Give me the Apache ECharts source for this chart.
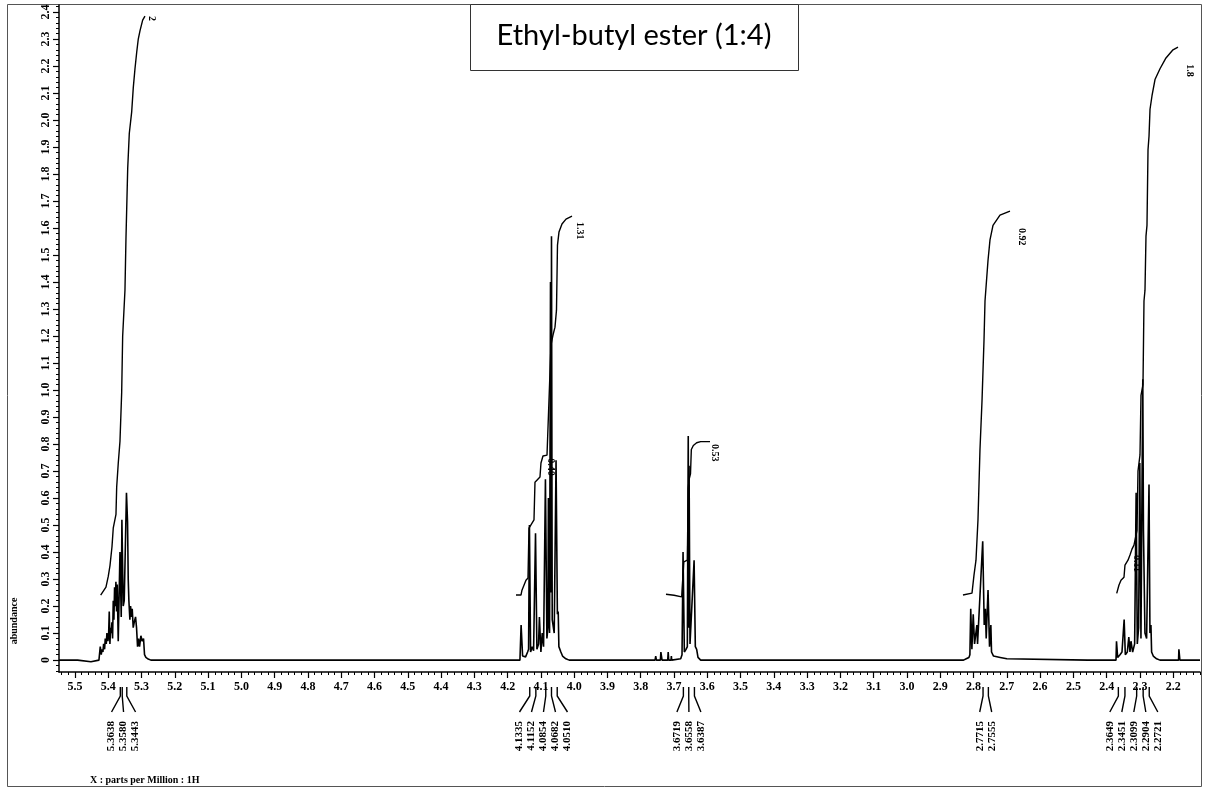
<!DOCTYPE html>
<html>
<head>
<meta charset="utf-8">
<title>Ethyl-butyl ester (1:4)</title>
<script src="https://cdn.jsdelivr.net/npm/echarts@6/dist/echarts.min.js"></script>
<style>
html, body { margin: 0; padding: 0; background: #fff; }
#chart { width: 1207px; height: 792px; }
</style>
</head>
<body>
<div id="chart"></div>
<script>
// axis window (ppm runs right to left)
const X_MIN = 2.1196
const X_MAX = 5.548
const Y_MIN = -0.044
const Y_MAX = 2.426

// tick labels
const xMajor = [5.5, 5.4, 5.3, 5.2, 5.1, 5.0, 4.9, 4.8, 4.7, 4.6, 4.5, 4.4, 4.3, 4.2, 4.1, 4.0, 3.9, 3.8, 3.7, 3.6, 3.5,
  3.4, 3.3, 3.2, 3.1, 3.0, 2.9, 2.8, 2.7, 2.6, 2.5, 2.4, 2.3, 2.2]
const yMajor = [0, 0.1, 0.2, 0.3, 0.4, 0.5, 0.6, 0.7, 0.8, 0.9, 1.0, 1.1, 1.2, 1.3, 1.4, 1.5, 1.6, 1.7, 1.8, 1.9, 2.0,
  2.1, 2.2, 2.3, 2.4]

// minor ticks every 0.02
const xMinor = []
for (let k = 106; k <= 277; k++) if (k % 5 !== 0) xMinor.push(k / 50)
const yMinor = []
for (let k = -2; k <= 121; k++) if (k % 5 !== 0) yMinor.push(k / 50)

// spectrum trace [ppm, abundance], left to right
const specBase = [[5.548, 0], [5.492, 0], [5.490, -0.006], [5.452, -0.006], [5.450, 0], [5.428, 0]]
const specA = [[5.426, 0], [5.424, 0.05], [5.421, 0.02], [5.419, 0.04], [5.416, 0.03], [5.414, 0.06], [5.411, 0.04],
  [5.409, 0.08], [5.406, 0.06], [5.404, 0.10], [5.401, 0.07], [5.399, 0.09], [5.397, 0.18], [5.395, 0.06],
  [5.393, 0.12], [5.391, 0.10], [5.389, 0.14], [5.387, 0.08], [5.385, 0.22], [5.383, 0.15], [5.381, 0.27],
  [5.379, 0.20], [5.377, 0.29], [5.375, 0.18], [5.373, 0.28], [5.370, 0.07], [5.3648, 0.40], [5.3628, 0.40],
  [5.361, 0.16], [5.3590, 0.52], [5.3570, 0.52], [5.355, 0.20], [5.352, 0.22], [5.3453, 0.62], [5.3433, 0.62],
  [5.342, 0.51], [5.340, 0.30], [5.338, 0.22], [5.335, 0.15], [5.333, 0.20], [5.330, 0.16], [5.328, 0.19],
  [5.325, 0.12], [5.322, 0.14], [5.318, 0.16], [5.315, 0.12], [5.312, 0.05], [5.309, 0.08], [5.306, 0.05],
  [5.302, 0.09], [5.298, 0.07], [5.294, 0.08], [5.291, 0.02], [5.287, 0.01], [5.280, 0.004], [5.272, 0]]
const specB = [[4.405, 0], [4.404, 0.006], [4.402, 0], [4.234, 0], [4.233, 0.006], [4.231, 0],
  [4.163, 0], [4.1595, 0.13], [4.1575, 0.13], [4.155, 0.015], [4.150, 0.02], [4.146, 0.012], [4.140, 0.03],
  [4.137, 0.04], [4.1345, 0.50], [4.1325, 0.50], [4.131, 0.03], [4.126, 0.05], [4.122, 0.035], [4.1162, 0.47],
  [4.1142, 0.47], [4.112, 0.04], [4.107, 0.06], [4.1045, 0.16], [4.1025, 0.16], [4.100, 0.03], [4.096, 0.10],
  [4.092, 0.05], [4.0864, 0.67], [4.0844, 0.67], [4.082, 0.08], [4.079, 0.12], [4.0775, 0.60], [4.0760, 0.60],
  [4.074, 0.10], [4.0712, 1.40], [4.0702, 1.40], [4.0690, 0.25], [4.0682, 1.57], [4.0672, 1.57], [4.066, 0.15],
  [4.060, 0.10], [4.0545, 0.74], [4.0525, 0.74], [4.0505, 0.17], [4.048, 0.18], [4.046, 0.05], [4.040, 0.03],
  [4.035, 0.015], [4.025, 0.005], [4.015, 0]]
const specC = [[3.882, 0], [3.881, 0.005], [3.879, 0], [3.872, 0], [3.871, 0.005], [3.869, 0], [3.861, 0],
  [3.860, 0.005], [3.858, 0], [3.757, 0], [3.755, 0.015], [3.753, 0], [3.741, 0], [3.7395, 0.03], [3.7375, 0.03],
  [3.736, 0], [3.719, 0], [3.7175, 0.03], [3.716, 0], [3.709, 0], [3.708, 0.015], [3.707, 0], [3.680, 0.005],
  [3.676, 0.02], [3.6729, 0.40], [3.6709, 0.40], [3.669, 0.03], [3.664, 0.04], [3.660, 0.05], [3.6573, 0.83],
  [3.6563, 0.83], [3.6555, 0.12], [3.6548, 0.72], [3.6538, 0.72], [3.652, 0.06], [3.646, 0.06], [3.6397, 0.37],
  [3.6377, 0.37], [3.636, 0.05], [3.632, 0.04], [3.628, 0.01], [3.620, 0], [3.476, 0], [3.475, 0.005], [3.473, 0]]
const specD = [[2.830, 0], [2.822, 0.005], [2.814, 0.01], [2.811, 0.02], [2.8085, 0.19], [2.8070, 0.19],
  [2.805, 0.04], [2.801, 0.17], [2.799, 0.17], [2.797, 0.06], [2.790, 0.13], [2.788, 0.06], [2.7725, 0.44],
  [2.7705, 0.44], [2.768, 0.13], [2.7645, 0.19], [2.762, 0.08], [2.7565, 0.26], [2.7545, 0.26], [2.752, 0.05],
  [2.748, 0.13], [2.746, 0.03], [2.740, 0.015], [2.720, 0.01], [2.700, 0.005], [2.695, 0]]
const specE = [[2.457, 0], [2.456, 0.005], [2.454, 0], [2.372, 0], [2.3705, 0.07], [2.3690, 0.07], [2.367, 0.01],
  [2.360, 0.02], [2.354, 0.03], [2.3475, 0.15], [2.3460, 0.15], [2.344, 0.02], [2.338, 0.03], [2.3335, 0.085],
  [2.332, 0.085], [2.330, 0.03], [2.327, 0.07], [2.325, 0.07], [2.322, 0.03], [2.316, 0.06], [2.3115, 0.62],
  [2.3100, 0.62], [2.308, 0.06], [2.304, 0.12], [2.3005, 0.73], [2.2995, 0.73], [2.297, 0.08], [2.2915, 1.04],
  [2.2905, 1.04], [2.2895, 0.48], [2.2870, 0.48], [2.285, 0.10], [2.280, 0.08], [2.2728, 0.65], [2.2718, 0.65],
  [2.270, 0.10], [2.267, 0.13], [2.265, 0.03], [2.260, 0.015], [2.250, 0.005], [2.240, 0], [2.184, 0],
  [2.183, 0.04], [2.181, 0.04], [2.180, 0], [2.1196, 0]]

// integral curves
const intA = [[5.4228, 0.241], [5.4069, 0.27], [5.400, 0.31], [5.3948, 0.35], [5.3888, 0.42], [5.3849, 0.49],
  [5.3768, 0.54], [5.3747, 0.64], [5.3699, 0.73], [5.3648, 0.81], [5.3597, 0.99], [5.3567, 1.20], [5.3498, 1.37],
  [5.3468, 1.56], [5.3416, 1.82], [5.3368, 1.95], [5.3296, 2.03], [5.3248, 2.12], [5.3197, 2.19], [5.3146, 2.25],
  [5.3098, 2.30], [5.3047, 2.33], [5.2966, 2.37], [5.2897, 2.385]]
const intB = [[4.1749, 0.241], [4.1599, 0.241], [4.1569, 0.259], [4.1449, 0.296], [4.1388, 0.304], [4.1358, 0.489],
  [4.1208, 0.519], [4.1178, 0.659], [4.1028, 0.678], [4.0998, 0.730], [4.0938, 0.756], [4.0817, 0.759],
  [4.0757, 0.963], [4.0697, 1.167], [4.0637, 1.204], [4.0577, 1.233], [4.0532, 1.296], [4.0502, 1.537],
  [4.0457, 1.585], [4.0367, 1.615], [4.0246, 1.633], [4.0066, 1.644]]
const intC = [[3.7242, 0.244], [3.700, 0.240], [3.6770, 0.234], [3.6715, 0.236], [3.6705, 0.364], [3.660, 0.37],
  [3.6575, 0.637], [3.6545, 0.67], [3.6505, 0.69], [3.648, 0.78], [3.642, 0.795], [3.632, 0.805], [3.620, 0.809],
  [3.5920, 0.809]]
const intD = [[2.8318, 0.241], [2.8047, 0.248], [2.7987, 0.315], [2.7927, 0.37], [2.7867, 0.52], [2.7807, 0.78],
  [2.7746, 0.96], [2.7686, 1.185], [2.7656, 1.33], [2.7566, 1.48], [2.7506, 1.556], [2.7416, 1.61],
  [2.7206, 1.648], [2.6906, 1.663]]
const intE = [[2.3699, 0.247], [2.3630, 0.278], [2.3570, 0.296], [2.3480, 0.307], [2.3450, 0.352], [2.3360, 0.37],
  [2.3300, 0.389], [2.3240, 0.411], [2.3180, 0.426], [2.3089, 0.48], [2.3059, 0.70], [2.2999, 0.76],
  [2.2969, 0.98], [2.2909, 1.02], [2.2879, 1.33], [2.2849, 1.37], [2.2819, 1.57], [2.2789, 1.61], [2.2758, 1.89],
  [2.2728, 1.94], [2.2698, 2.04], [2.2638, 2.09], [2.2548, 2.15], [2.2398, 2.19], [2.2218, 2.23], [2.2007, 2.26],
  [2.1857, 2.27]]

// integral values and where they sit
const intLabels = ['2', '0.40', '1.31', '0.53', '0.92', '0.11', '1.8']
const intLabelAt = [[5.2686, 2.385], [4.0697, 0.748], [3.9826, 1.622], [3.5769, 0.80], [2.6545, 1.60],
  [2.309, 0.389], [2.1496, 2.207]]

// picked peaks, one list per multiplet
const peakGroups = [
  [5.3638, 5.3580, 5.3443],
  [4.1335, 4.1152, 4.0854, 4.0682, 4.0510],
  [3.6719, 3.6558, 3.6387],
  [2.7715, 2.7555],
  [2.3649, 2.3451, 2.3099, 2.2904, 2.2721]
]

const SERIF = '"Liberation Serif", "DejaVu Serif", serif'

const peakItems = []
peakGroups.forEach((g, gi) => g.forEach((p, i) => peakItems.push([p, Y_MIN, gi, i])))

function renderPeakLabel(params, api) {
  const gi = api.value(2)
  const i = api.value(3)
  const group = peakGroups[gi]
  const xs = group.map(p => api.coord([p, Y_MIN])[0])
  const mid = (xs[0] + xs[xs.length - 1]) / 2
  const pt = api.coord([api.value(0), Y_MIN])
  const lx = mid + (i - (group.length - 1) / 2) * 12
  const ay = pt[1]
  return {
    type: 'group',
    children: [{
      type: 'polyline',
      shape: { points: [[pt[0], ay + 15], [pt[0], ay + 24], [lx, ay + 40]] },
      style: { stroke: '#000', lineWidth: 1.4, fill: null }
    }, {
      type: 'text',
      x: lx,
      y: ay + 49,
      rotation: Math.PI / 2,
      style: {
        text: group[i].toFixed(4), fill: '#000', font: 'bold 11px ' + SERIF,
        align: 'right', verticalAlign: 'middle', textAlign: 'right', textVerticalAlign: 'middle'
      }
    }]
  }
}

function renderIntLabel(params, api) {
  const pt = api.coord([api.value(0), api.value(1)])
  return {
    type: 'text',
    x: pt[0],
    y: pt[1],
    rotation: -Math.PI / 2,
    style: {
      text: intLabels[params.dataIndex], fill: '#000', font: 'bold 10px ' + SERIF,
      align: 'left', verticalAlign: 'middle', textAlign: 'left', textVerticalAlign: 'middle'
    }
  }
}

function intSeries(data) {
  return {
    type: 'line',
    data: data,
    showSymbol: false,
    symbol: 'none',
    lineStyle: { color: '#000', width: 1.4 },
    silent: true
  }
}

const axisFont = { color: '#000', fontFamily: SERIF, fontWeight: 'bold', fontSize: 12 }

const chart = echarts.init(document.getElementById('chart'))
chart.setOption({
  animation: false,
  backgroundColor: '#fff',
  grid: { left: 59, right: 7, top: 5, bottom: 120 },
  xAxis: [{
    type: 'value',
    inverse: true,
    position: 'bottom',
    min: X_MIN,
    max: X_MAX,
    axisLine: { onZero: false, lineStyle: { color: '#000', width: 1.5 } },
    axisTick: { customValues: xMajor, length: 6, lineStyle: { color: '#000', width: 1.2 } },
    axisLabel: Object.assign({ customValues: xMajor, margin: 9, formatter: v => v.toFixed(1) }, axisFont),
    splitLine: { show: false }
  }, {
    type: 'value',
    inverse: true,
    position: 'bottom',
    min: X_MIN,
    max: X_MAX,
    axisLine: { show: false, onZero: false },
    axisTick: { customValues: xMinor, length: 3, lineStyle: { color: '#000', width: 1 } },
    axisLabel: { show: false },
    splitLine: { show: false }
  }],
  yAxis: [{
    type: 'value',
    position: 'left',
    min: Y_MIN,
    max: Y_MAX,
    axisLine: { show: true, onZero: false, lineStyle: { color: '#000', width: 1.5 } },
    axisTick: { show: true, customValues: yMajor, length: 6, lineStyle: { color: '#000', width: 1.2 } },
    axisLabel: Object.assign({
      customValues: yMajor, rotate: 90, margin: 7,
      formatter: v => (v === 0 ? '0' : v.toFixed(1))
    }, axisFont),
    splitLine: { show: false }
  }, {
    type: 'value',
    position: 'left',
    min: Y_MIN,
    max: Y_MAX,
    axisLine: { show: false, onZero: false },
    axisTick: { show: true, customValues: yMinor, length: 3, lineStyle: { color: '#000', width: 1 } },
    axisLabel: { show: false },
    splitLine: { show: false }
  }],
  series: [{
    type: 'line',
    data: specBase.concat(specA, specB, specC, specD, specE),
    showSymbol: false,
    symbol: 'none',
    sampling: null,
    lineStyle: { color: '#000', width: 1.6 },
    silent: true
  },
  intSeries(intA), intSeries(intB), intSeries(intC), intSeries(intD), intSeries(intE),
  {
    type: 'custom',
    data: intLabelAt,
    encode: { x: 0, y: 1 },
    clip: false,
    silent: true,
    renderItem: renderIntLabel
  }, {
    type: 'custom',
    data: peakItems,
    encode: { x: 0, y: 1 },
    clip: false,
    silent: true,
    renderItem: renderPeakLabel
  }],
  graphic: [{
    type: 'rect',
    shape: { x: 7.5, y: 4.5, width: 1194, height: 782 },
    style: { fill: null, stroke: '#555', lineWidth: 1 },
    silent: true
  }, {
    type: 'rect',
    shape: { x: 470.5, y: 4.5, width: 328, height: 66 },
    style: { fill: '#fff', stroke: '#333', lineWidth: 1 },
    z: 10
  }, {
    type: 'text',
    x: 634,
    y: 36,
    z: 11,
    style: {
      text: 'Ethyl-butyl ester (1:4)', fill: '#000', font: '29px Lato, "Open Sans", sans-serif',
      align: 'center', verticalAlign: 'middle', textAlign: 'center', textVerticalAlign: 'middle'
    }
  }, {
    type: 'text',
    x: 90,
    y: 780,
    style: {
      text: 'X : parts per Million : 1H', fill: '#000', font: 'bold 10px ' + SERIF,
      align: 'left', verticalAlign: 'middle', textAlign: 'left', textVerticalAlign: 'middle'
    }
  }, {
    type: 'text',
    x: 14,
    y: 621,
    rotation: Math.PI / 2,
    style: {
      text: 'abundance', fill: '#000', font: 'bold 10px ' + SERIF,
      align: 'center', verticalAlign: 'middle', textAlign: 'center', textVerticalAlign: 'middle'
    }
  }]
})
</script>
</body>
</html>
